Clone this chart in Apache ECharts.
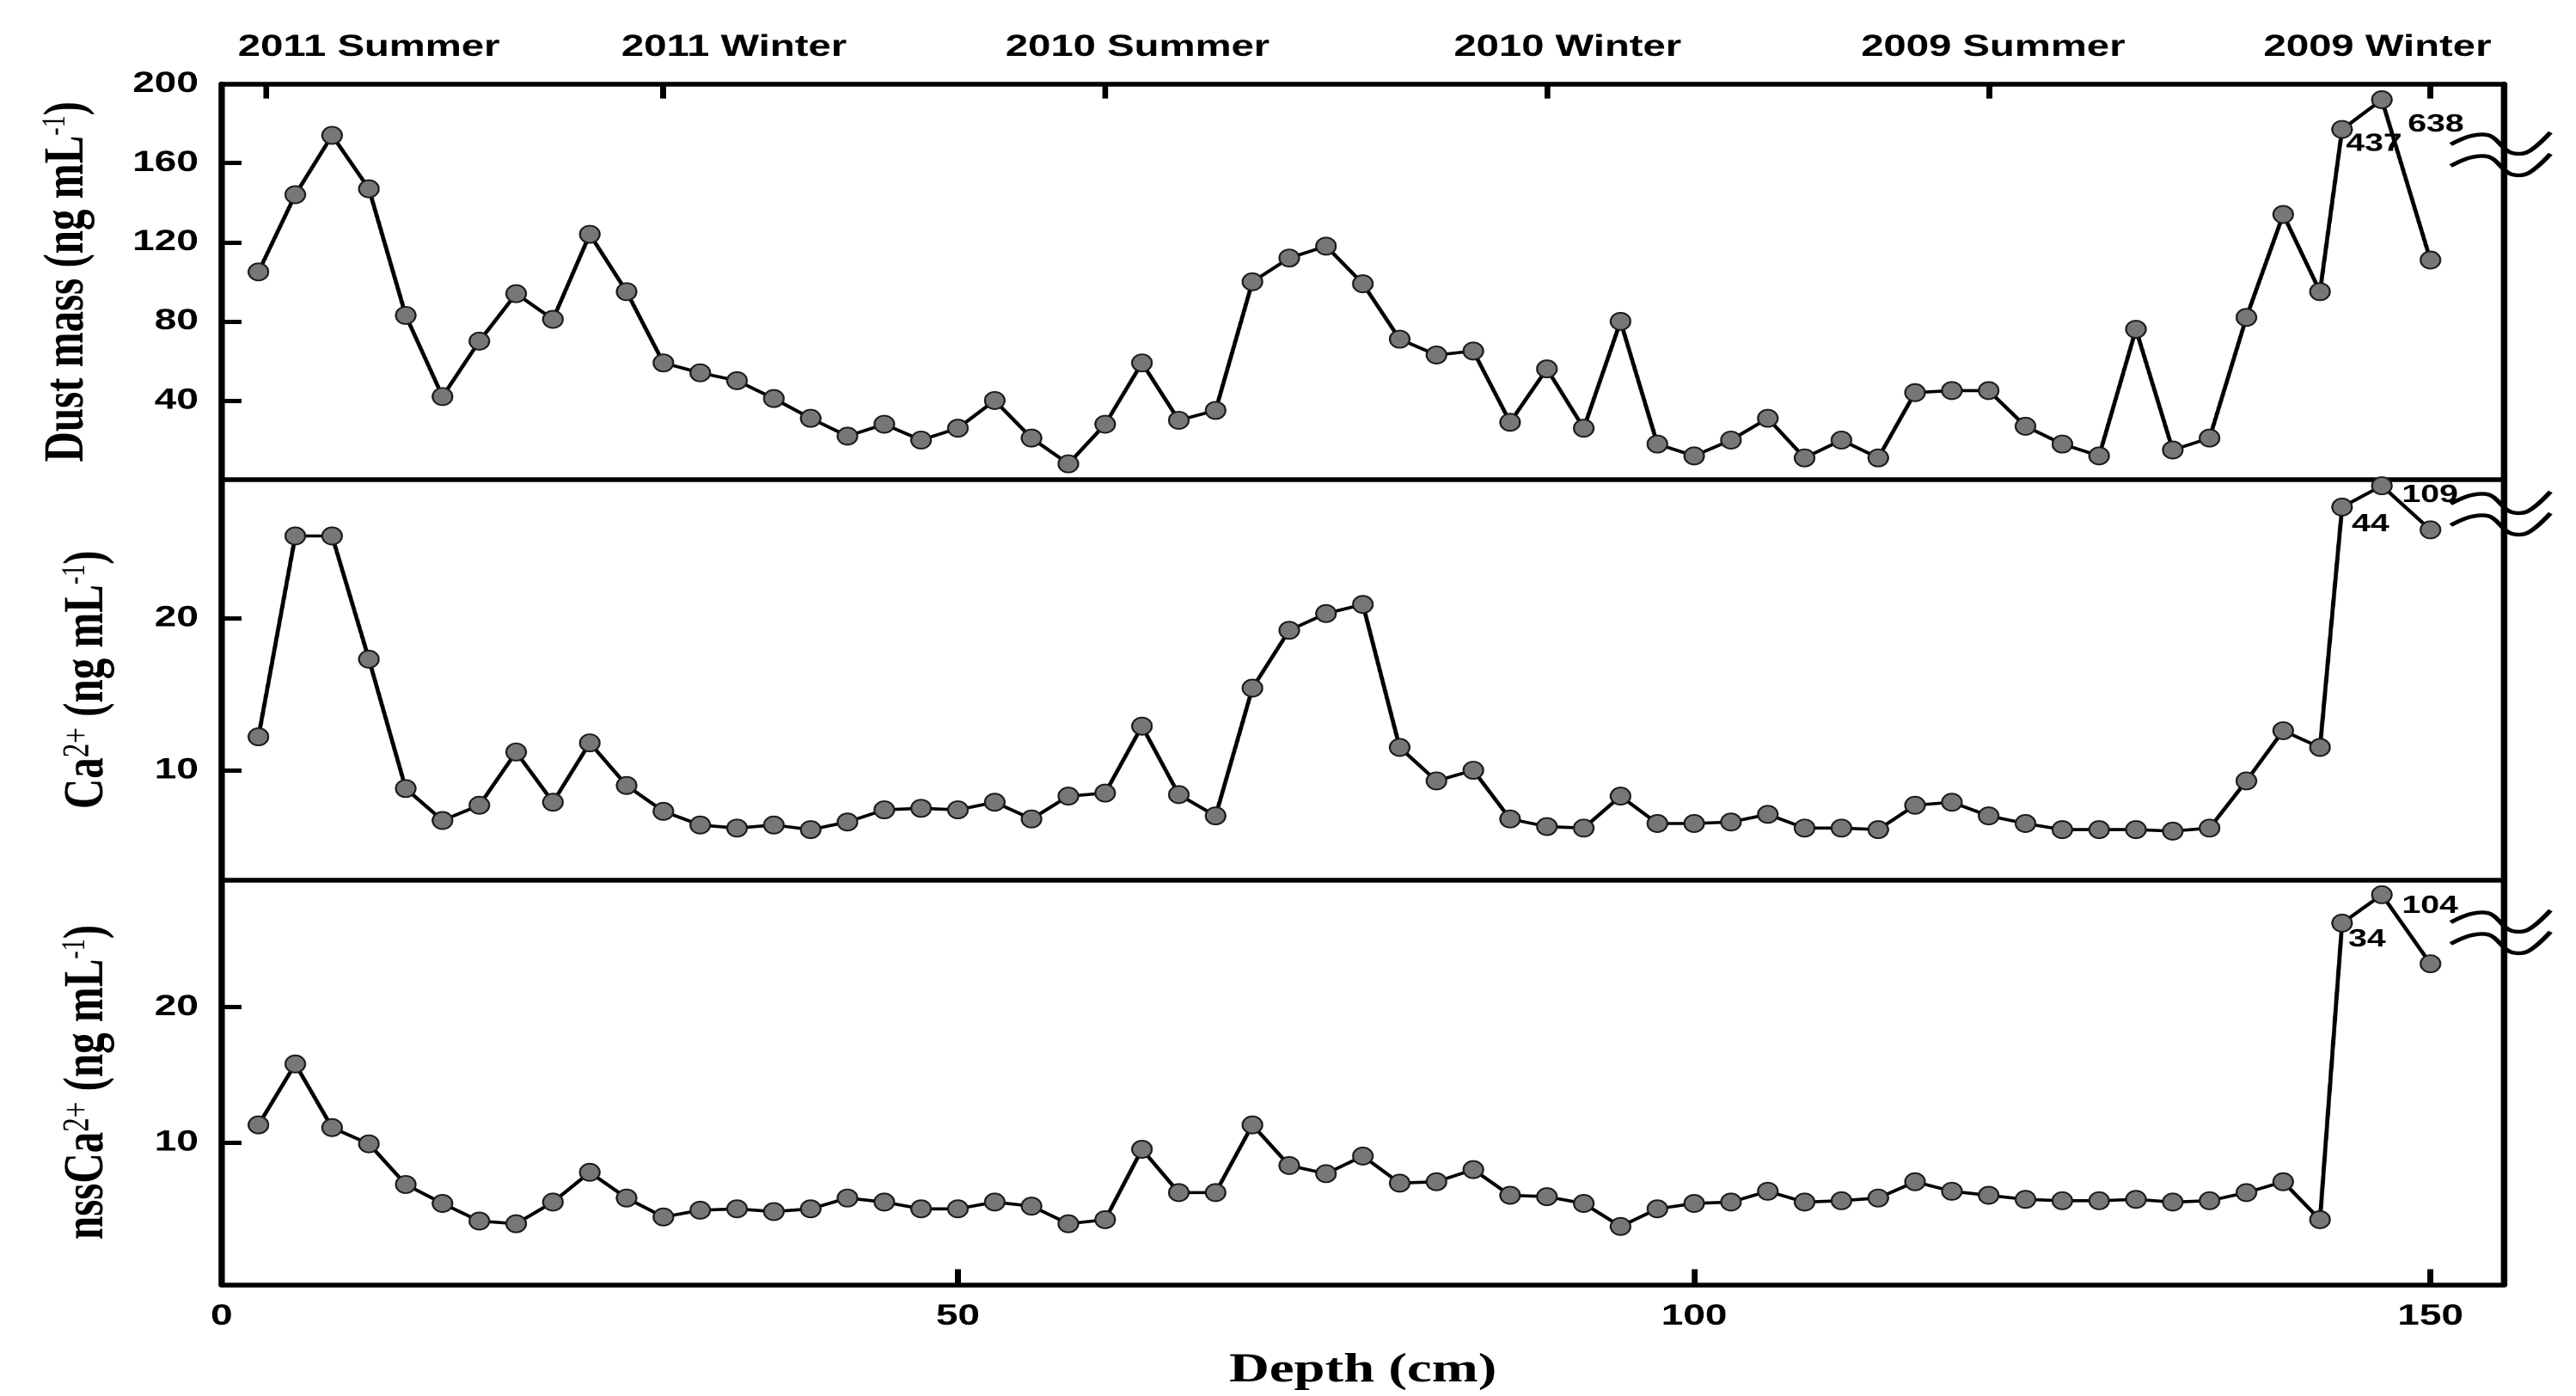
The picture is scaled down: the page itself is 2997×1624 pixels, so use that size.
<!DOCTYPE html>
<html><head><meta charset="utf-8">
<script src="https://cdn.jsdelivr.net/npm/echarts@6/dist/echarts.min.js"></script>
<style>
html,body{margin:0;padding:0;background:#fff;overflow:hidden;}
#wrap{width:2997px;height:1624px;overflow:hidden;position:relative;background:#fff;}
#chart{width:2220px;height:1624px;transform:scaleX(1.35);transform-origin:0 0;}
</style></head><body><div id="wrap"><div id="chart"></div></div>
<script>
// ---------------- data ----------------
const depths = [2.5,5,7.5,10,12.5,15,17.5,20,22.5,25,27.5,30,32.5,35,37.5,40,42.5,
  45,47.5,50,52.5,55,57.5,60,62.5,65,67.5,70,72.5,75,77.5,80,82.5,85,87.5,90,92.5,95,97.5,100,
  102.5,105,107.5,110,112.5,115,117.5,120,122.5,125,127.5,130,132.5,135,137.5,140,142.5,
  144,146.7,150];
const dustMass = [105,144,174,147,83,42,70,94,81,124,95,59,54,50,41,31,22,
  28,20,26,40,21,8,28,59,30,35,100,112,118,99,71,63,65,29,56,26,80,18,12,
  20,31,11,20,11,44,45,45,27,18,12,76,15,21,82,134,95,
  177,192,111];
const ca = [12.2,25.4,25.4,17.3,8.8,6.7,7.7,11.2,7.9,11.8,9.0,7.3,6.4,6.2,6.4,6.1,6.6,
  7.4,7.5,7.4,7.9,6.8,8.3,8.5,12.9,8.4,7.0,15.4,19.2,20.3,20.9,11.5,9.3,10.0,6.8,6.3,6.2,8.3,6.5,6.5,
  6.6,7.1,6.2,6.2,6.1,7.7,7.9,7.0,6.5,6.1,6.1,6.1,6.0,6.2,9.3,12.6,11.5,
  27.3,28.7,25.8];
const nssCa = [11.3,15.8,11.1,9.9,6.9,5.5,4.2,4.0,5.6,7.8,5.9,4.5,5.0,5.1,4.9,5.1,5.9,
  5.6,5.1,5.1,5.6,5.3,4.0,4.3,9.5,6.3,6.3,11.3,8.3,7.7,9.0,7.0,7.1,8.0,6.1,6.0,5.5,3.8,5.1,5.5,
  5.6,6.4,5.6,5.7,5.9,7.1,6.4,6.1,5.8,5.7,5.7,5.8,5.6,5.7,6.3,7.1,4.3,
  26.2,28.3,23.2];
// off-scale (axis-break) points and their true values
const breakDepths = [144, 146.7];
const dustBreakLabels = ['437', '638'];
const caBreakLabels = ['44', '109'];
const nssBreakLabels = ['34', '104'];
// season labels on the top axis
const seasonNames = ['2011 Summer','2011 Winter','2010 Summer','2010 Winter','2009 Summer','2009 Winter'];
const seasonLabelDepths = [10, 34.8, 62.2, 91.4, 120.3, 146.4];
const seasonTickDepths = [3, 30, 60, 90, 120, 150];
// tick labels
const depthTicks = [0, 50, 100, 150];
const dustTicks = [40, 80, 120, 160, 200];
const caTicks = [10, 20];
const nssTicks = [10, 20];

// ---------------- layout / style ----------------
const LEFT = 191, RIGHT = 62;
const G = [
  {top: 97.6, height: 460.4},
  {top: 558, height: 465.5},
  {top: 1023.5, height: 471}
];
const LW = 5.5;
const SANS = 'Liberation Sans', SERIF = 'Liberation Serif';
const tickFont = {fontFamily: SANS, fontWeight: 'bold', fontSize: 34, color: '#000'};
const nameRich = {
  sup: {fontFamily: SERIF, fontSize: 28, fontWeight: 'normal', color: '#000', verticalAlign: 'top', padding: [0, 0, 17, 0]},
  sup2: {fontFamily: SERIF, fontSize: 33, fontWeight: 'normal', color: '#000', verticalAlign: 'top', padding: [0, 0, 8, 0]}
};
const nameStyle = {fontFamily: SERIF, fontWeight: 'bold', fontSize: 49, color: '#000', rich: nameRich};
const labelOffsets = {
  dust: [[-11, 17], [8, 29]],
  ca: [[-6, 20], [3, 11]],
  nss: [[-9, 19], [3, 13]]
};
const CIRCLE = 'path://M50,0A50,50,0,1,1,49.99,0Z';

function buildData(values, labels, offsets) {
  return depths.map((d, i) => {
    const k = breakDepths.indexOf(d);
    if (k < 0) return [d, values[i]];
    return {
      value: [d, values[i]],
      label: {show: true, formatter: labels[k], position: 'right', offset: offsets[k],
        fontFamily: SANS, fontWeight: 'bold', fontSize: 29, color: '#000'}
    };
  });
}

function lineSeries(xi, yi, data) {
  return {
    type: 'line', xAxisIndex: xi, yAxisIndex: yi, data: data,
    symbol: CIRCLE, symbolSize: [17, 20], symbolKeepAspect: false, showAllSymbol: true,
    lineStyle: {color: '#000', width: 3.6},
    itemStyle: {color: '#777777', borderColor: '#1a1a1a', borderWidth: 1.8},
    emphasis: {disabled: true}, animation: false, clip: false, z: 3
  };
}

function plainX(gi) {
  return {type: 'value', gridIndex: gi, min: 0, max: 155, position: 'bottom',
    axisLine: {show: true, onZero: false, lineStyle: {color: '#000', width: LW}},
    axisTick: {show: false}, axisLabel: {show: false}, splitLine: {show: false}};
}
function rightY(gi, min, max) {
  return {type: 'value', gridIndex: gi, min: min, max: max, position: 'right',
    axisLine: {show: true, onZero: false, lineStyle: {color: '#000', width: LW}},
    axisTick: {show: false}, axisLabel: {show: false}, splitLine: {show: false}};
}
function leftY(gi, min, max, ticks, name, gap) {
  return {type: 'value', gridIndex: gi, min: min, max: max, position: 'left',
    name: name, nameLocation: 'middle', nameGap: gap, nameTextStyle: nameStyle,
    axisLine: {show: true, onZero: false, lineStyle: {color: '#000', width: LW}},
    axisTick: {show: true, inside: true, length: 17, lineStyle: {color: '#000', width: 5},
      customValues: ticks.filter(v => v < max)},
    axisLabel: Object.assign({show: true, margin: 20, customValues: ticks}, tickFont),
    splitLine: {show: false}};
}

const xAxes = [
  plainX(0),
  {type: 'value', gridIndex: 0, min: 0, max: 155, position: 'top',
    axisLine: {show: true, onZero: false, lineStyle: {color: '#000', width: LW}},
    axisTick: {show: true, inside: true, length: 17, lineStyle: {color: '#000', width: 5}, customValues: seasonTickDepths},
    axisLabel: Object.assign({show: true, margin: 25, fontSize: 35, customValues: seasonLabelDepths,
      formatter: function (v) {
        let best = 0;
        seasonLabelDepths.forEach((p, i) => { if (Math.abs(p - v) < Math.abs(seasonLabelDepths[best] - v)) best = i; });
        return seasonNames[best];
      }}, {fontFamily: SANS, fontWeight: 'bold', color: '#000'}),
    splitLine: {show: false}},
  plainX(1),
  {type: 'value', gridIndex: 2, min: 0, max: 155, position: 'bottom',
    name: 'Depth (cm)', nameLocation: 'middle', nameGap: 76,
    nameTextStyle: {fontFamily: SERIF, fontWeight: 'bold', fontSize: 48, color: '#000'},
    axisLine: {show: true, onZero: false, lineStyle: {color: '#000', width: LW}},
    axisTick: {show: true, inside: true, length: 18, lineStyle: {color: '#000', width: 5}, customValues: depthTicks.filter(v => v > 0)},
    axisLabel: Object.assign({show: true, margin: 20, customValues: depthTicks}, tickFont),
    splitLine: {show: false}}
];

const yAxes = [
  leftY(0, 0, 200, dustTicks, 'Dust mass (ng mL{sup|-1})', 108),
  rightY(0, 0, 200),
  leftY(1, 2.8, 29.1, caTicks, 'Ca{sup2|2+} (ng mL{sup|-1})', 91),
  rightY(1, 2.8, 29.1),
  leftY(2, -0.5, 29.4, nssTicks, 'nssCa{sup2|2+} (ng mL{sup|-1})', 91),
  rightY(2, -0.5, 29.4)
];

// axis-break squiggles at the right frame (decoration)
const breakMarkTops = [158, 576, 1063];
function squiggle(y) {
  return {type: 'polyline', z: 10, silent: true,
    shape: {points: [[2112, y + 10], [2130, y], [2146, y], [2163, y + 19], [2178, y + 19], [2198, y - 4]], smooth: 0.35},
    style: {stroke: '#000', lineWidth: 4.4, fill: null}};
}
const graphics = [];
breakMarkTops.forEach(y => { graphics.push(squiggle(y)); graphics.push(squiggle(y + 25)); });

const chart = echarts.init(document.getElementById('chart'), null, {renderer: 'canvas', devicePixelRatio: 2});
chart.setOption({
  backgroundColor: '#fff',
  animation: false,
  grid: G.map(g => ({left: LEFT, right: RIGHT, top: g.top, height: g.height, containLabel: false})),
  xAxis: xAxes,
  yAxis: yAxes,
  series: [
    lineSeries(0, 0, buildData(dustMass, dustBreakLabels, labelOffsets.dust)),
    lineSeries(2, 2, buildData(ca, caBreakLabels, labelOffsets.ca)),
    lineSeries(3, 4, buildData(nssCa, nssBreakLabels, labelOffsets.nss))
  ],
  graphic: graphics
});
</script></body></html>
